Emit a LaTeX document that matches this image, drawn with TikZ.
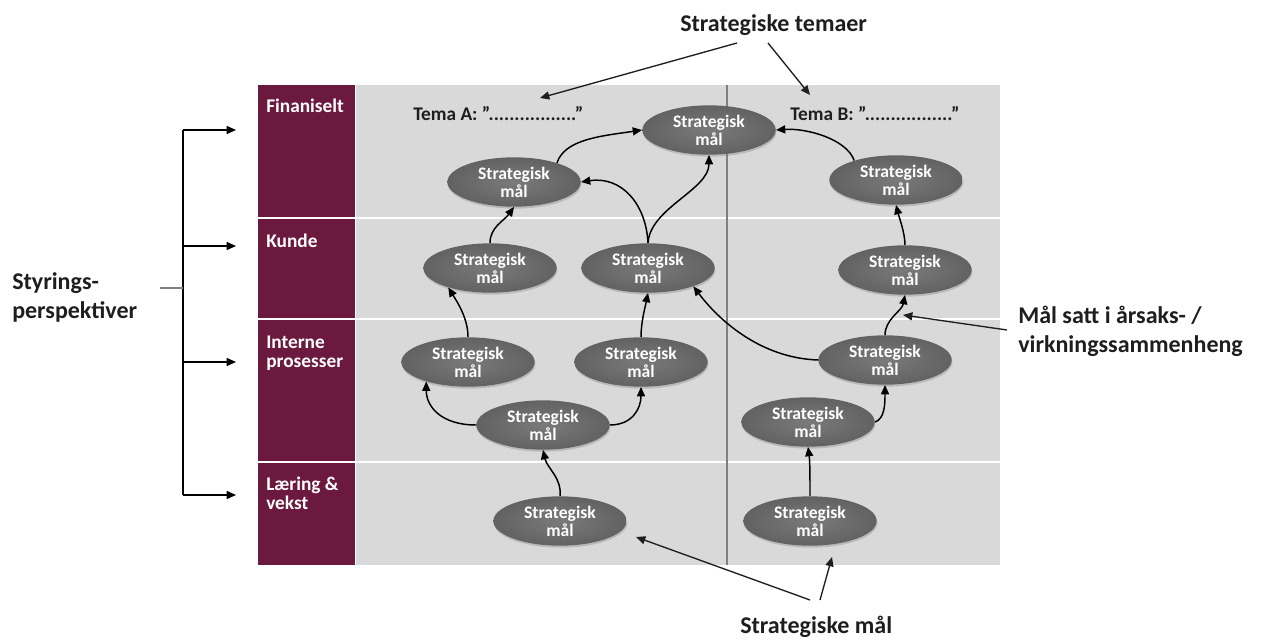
\documentclass[tikz,border=0pt]{standalone}
\usepackage{fontspec}
\setmainfont{Carlito}
\usetikzlibrary{shapes.geometric,arrows.meta,shadows}
\definecolor{maroon}{RGB}{107,25,62}
\definecolor{panel}{RGB}{217,217,217}
\definecolor{goalin}{RGB}{122,122,122}
\definecolor{goalout}{RGB}{98,98,98}
\definecolor{ink}{RGB}{30,30,30}
\definecolor{divider}{RGB}{128,128,128}
\begin{document}
\begin{tikzpicture}[x=0.75pt,y=-0.75pt,
  goal/.style={ellipse, inner color=goalin, outer color=goalout, text=white, inner sep=0pt,
    minimum width=100pt, minimum height=37pt, align=center,
    font=\bfseries\fontsize{13.2}{13.5}\selectfont,
    drop shadow={shadow xshift=0.5pt, shadow yshift=-1.5pt, opacity=0.35}},
  cause/.style={line width=1.1pt, -{Triangle[length=7pt,width=6pt]}},
  note/.style={line width=1pt, draw=ink, -{Triangle[length=7pt,width=6pt]}},
  persp/.style={text=white, font=\bfseries\fontsize{14.5}{14.25}\selectfont,
    align=left, anchor=north west, inner sep=0pt},
  tema/.style={text=ink, font=\bfseries\fontsize{14.5}{15}\selectfont,
    anchor=north west, inner sep=0pt},
  callout/.style={text=ink, font=\bfseries\fontsize{18}{21.75}\selectfont,
    align=left, anchor=north west, inner sep=0pt}
]
\fill[white] (0,0) rectangle (1269,641);
\useasboundingbox (0,0) rectangle (1269,641);

% panels
\fill[panel] (356,85) rectangle (1000,565);
\fill[maroon] (258,85) rectangle (355,565);
\foreach \yy in {218,319,462} \draw[white, line width=2pt] (258,\yy) -- (1000,\yy);
\draw[divider, line width=1.1pt] (727,85) -- (727,565);

% perspective labels
\node[persp] (fin) at (266,99) {Finaniselt};
\node[persp] (kun) at (266,234) {Kunde};
\node[persp] (int) at (266,336) {Interne\\prosesser};
\node[persp] (lae) at (266,477) {Læring \&\\vekst};

% theme labels
\node[tema] (temaA) at (413,106) {Tema A: ”.................”};
\node[tema] (temaB) at (790,106) {Tema B: ”.................”};

% goals
\node[goal] (F1) at (514,182) {Strategisk\\mål};
\node[goal] (F2) at (709,130) {Strategisk\\mål};
\node[goal] (F3) at (896,180) {Strategisk\\mål};
\node[goal] (K1) at (490,268) {Strategisk\\mål};
\node[goal] (K2) at (648,268) {Strategisk\\mål};
\node[goal] (K3) at (905,270) {Strategisk\\mål};
\node[goal] (I1) at (468,362) {Strategisk\\mål};
\node[goal] (I2) at (641,362) {Strategisk\\mål};
\node[goal] (I3) at (543,425) {Strategisk\\mål};
\node[goal] (I4) at (885,360) {Strategisk\\mål};
\node[goal] (I5) at (808,422) {Strategisk\\mål};
\node[goal] (L1) at (560,521) {Strategisk\\mål};
\node[goal] (L2) at (810,521) {Strategisk\\mål};

% cause-effect connectors
\draw[cause] (F1.24) .. controls +(8,-24) and +(-40,6) .. (F2.west);
\draw[cause] (K2.north) .. controls +(-2,-40) and +(40,-6) .. (F1.east);
\draw[cause] (K2.north) .. controls +(2,-35) and +(0,35) .. (F2.south);
\draw[cause] (K1.north) .. controls +(0,-16) and +(-10,14) .. (F1.south);
\draw[cause] (I1.north) .. controls +(0,-18) and +(10,16) .. (K1.205);
\draw[cause] (I2.north) .. controls +(0,-15) and +(-3,15) .. (K2.south);
\draw[cause] (I3.west) .. controls +(-35,0) and +(0,25) .. (I1.205);
\draw[cause] (I3.east) .. controls +(22,0) and +(0,22) .. (I2.south);
\draw[cause] (L1.north) .. controls +(2,-18) and +(4,18) .. (I3.south);
\draw[cause] (I4.west) .. controls +(-59,-2) and +(24,32) .. (K2.-22);
\draw[cause] (I4.north) .. controls +(0,-16) and +(-3,16) .. (K3.south);
\draw[cause] (I5.east) .. controls +(10,-3) and +(0,18) .. (I4.south);
\draw[cause] (L2.north) .. controls +(0,-15) and +(2,15) .. (I5.south);
\draw[cause] (K3.north) .. controls +(0,-12) and +(3,12) .. (F3.south);
\draw[cause] (F3.155) .. controls +(-8,-22) and +(30,-2) .. (F2.east);

% left bracket
\node[callout] (styr) at (12,272) {Styrings-\\perspektiver};
\coordinate (bt) at (183,130);
\coordinate (bb) at (183,495);
\coordinate (bm) at (183,288);
\coordinate (btick) at (160,288);
\coordinate (b1) at (236,130);
\coordinate (b2) at (236,246);
\coordinate (b3) at (236,362);
\coordinate (b4) at (236,495);
\draw[line width=1.1pt] (bt) -- (bb);
\draw[divider, line width=0.9pt] (btick) -- (bm);
\draw[cause] (bt) -- (b1);
\draw[cause] (bt |- b2) -- (b2);
\draw[cause] (bt |- b3) -- (b3);
\draw[cause] (bb) -- (b4);

% callouts
\node[callout] (temaer) at (680,14) {Strategiske temaer};
\coordinate (tA0) at (737,43);
\coordinate (tA1) at (540,98);
\coordinate (tB0) at (768,43);
\coordinate (tB1) at (810,95);
\draw[note] (tA0) -- (tA1);
\draw[note] (tB0) -- (tB1);

\node[callout] (aarsak) at (1018,306) {Mål satt i årsaks- /\\virkningssammenheng};
\coordinate (a0) at (1007,330);
\coordinate (a1) at (903,315);
\draw[note] (a0) -- (a1);

\node[callout] (smaal) at (740,616) {Strategiske mål};
\coordinate (m0) at (810,600);
\coordinate (m1) at (820,600);
\coordinate (mL) at (636,537);
\coordinate (mR) at (832,557);
\draw[note] (m0) -- (mL);
\draw[note] (m1) -- (mR);
\end{tikzpicture}
\end{document}
